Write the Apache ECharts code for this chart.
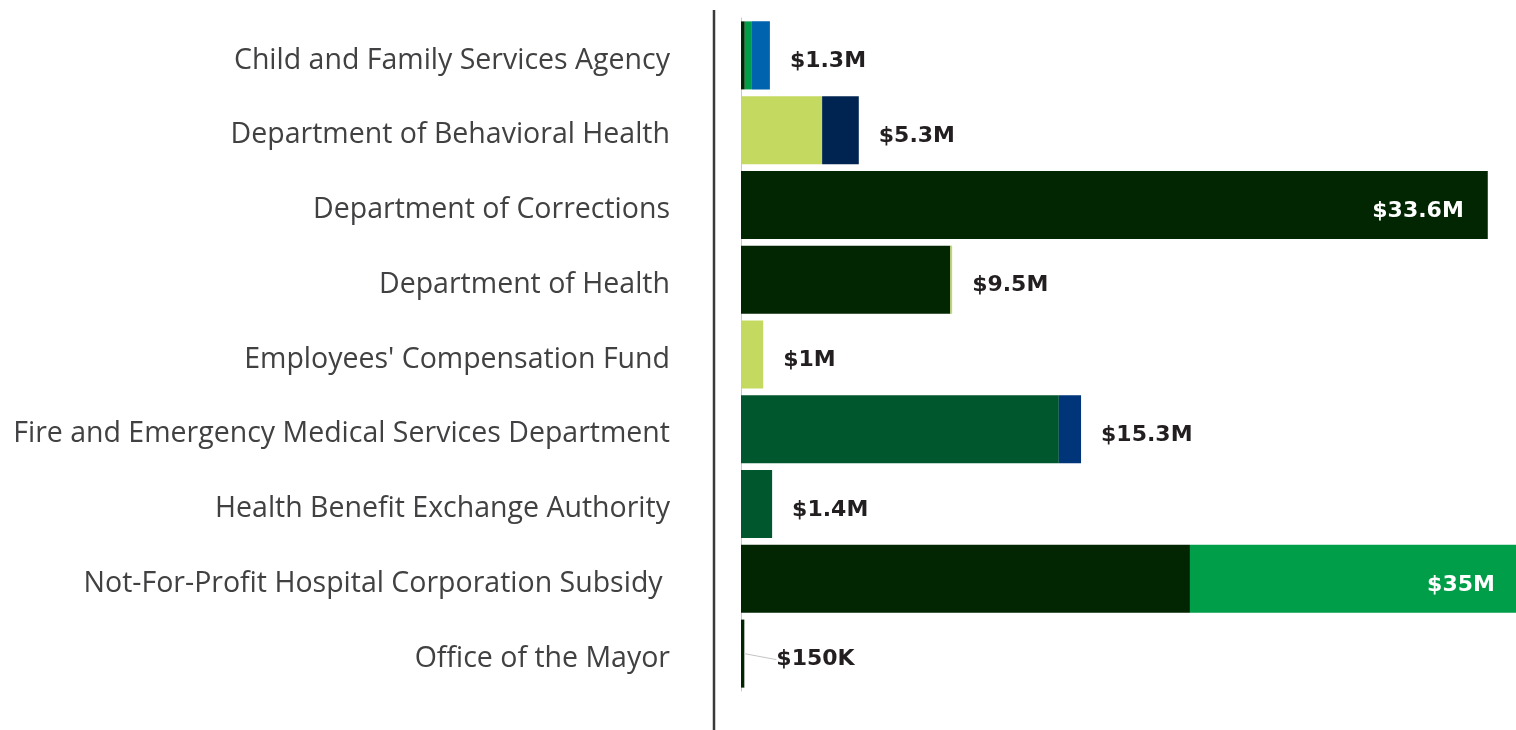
<!DOCTYPE html>
<html>
<head>
<meta charset="utf-8">
<script src="https://cdn.jsdelivr.net/npm/echarts@6/dist/echarts.min.js"></script>
<style>
  html, body { margin: 0; padding: 0; background: #fff; }
  #chart { width: 1516px; height: 730px; }
</style>
</head>
<body>
<div id="chart"></div>
<script>
const categories = [
  'Child and Family Services Agency',
  'Department of Behavioral Health',
  'Department of Corrections',
  'Department of Health',
  "Employees' Compensation Fund",
  'Fire and Emergency Medical Services Department',
  'Health Benefit Exchange Authority',
  'Not-For-Profit Hospital Corporation Subsidy ',
  'Office of the Mayor'
];

// segment values in $M, one array per fill colour
const darkGreen = [0.17, 0, 33.6, 9.42, 0, 0, 0, 20.2, 0.15];
const forest    = [0, 0, 0, 0, 0, 14.3, 1.4, 0, 0];
const green     = [0.32, 0, 0, 0, 0, 0, 0, 14.8, 0];
const lime      = [0, 3.65, 0, 0.08, 1.0, 0, 0, 0, 0];
const blue      = [0.81, 0, 0, 0, 0, 0, 0, 0, 0];
const navy      = [0, 1.65, 0, 0, 0, 0, 0, 0, 0];
const royal     = [0, 0, 0, 0, 0, 1.0, 0, 0, 0];

const totals      = [1.3, 5.3, 33.6, 9.5, 1.0, 15.3, 1.4, 35, 0.15];
const totalLabels = ['$1.3M', '$5.3M', '$33.6M', '$9.5M', '$1M', '$15.3M', '$1.4M', '$35M', '$150K'];

const segments = [
  { name: 'darkGreen', data: darkGreen, color: '#032602' },
  { name: 'forest', data: forest, color: '#00562d' },
  { name: 'green', data: green, color: '#009e48' },
  { name: 'lime', data: lime, color: '#c3d960' },
  { name: 'blue', data: blue, color: '#0063ae' },
  { name: 'navy', data: navy, color: '#002451' },
  { name: 'royal', data: royal, color: '#003579' }
];

const chart = echarts.init(document.getElementById('chart'));

const barSeries = segments.map(s => ({
  name: s.name,
  type: 'bar',
  stack: 'total',
  data: s.data,
  barCategoryGap: '9%',
  itemStyle: { color: s.color },
  silent: true
}));

// total labels: outside for short bars, inside (white) for the long ones,
// the tiny last bar gets a short leader line
const lastIdx = totals.length - 1;
const isInside = v => v > 30;
const totalData = totals.map((v, i) => {
  let label;
  if (isInside(v)) label = { position: 'left', distance: 24 };
  else if (i === lastIdx) label = { position: 'right', distance: 5, padding: [12, 0, 0, 14] };
  else label = { position: 'right', distance: 20 };
  return { value: [v, categories[i]], label, labelLine: { show: i === lastIdx } };
});

const valueText = {
  fontSize: 22,
  fontWeight: 'bold',
  fontFamily: '"DejaVu Sans", sans-serif'
};

chart.setOption({
  animation: false,
  backgroundColor: '#fff',
  grid: { left: 741, right: 0, top: 18, bottom: 39, containLabel: false },
  xAxis: {
    type: 'value',
    min: 0,
    max: 34.87,   // right end of the $35M bar runs just past the frame
    show: false
  },
  yAxis: {
    type: 'category',
    data: categories,
    inverse: true,
    axisLine: { show: true, lineStyle: { color: '#c8c8c8', width: 1 } },
    axisTick: { show: false },
    splitLine: { show: false },
    axisLabel: {
      margin: 71,
      verticalAlign: 'middle',
      formatter: v => '{t|' + v + '}',
      rich: {
        t: {
          fontSize: 28.5,
          color: '#414042',
          fontFamily: '"Open Sans", sans-serif',
          padding: [10, 0, 0, 0]
        }
      }
    }
  },
  graphic: [{
    type: 'line',
    shape: { x1: 714, y1: 10, x2: 714, y2: 730 },
    style: { stroke: '#3a3a3a', lineWidth: 2.5 }
  }],
  series: [
    ...barSeries,
    {
      name: 'total',
      type: 'scatter',
      data: totalData,
      symbolSize: 0,
      itemStyle: { opacity: 1 },
      silent: true,
      clip: false,
      z: 5,
      label: {
        show: true,
        formatter: p => {
          const i = p.dataIndex;
          const style = isInside(totals[i]) ? 'w' : (i === lastIdx ? 'm' : 'd');
          return '{' + style + '|' + totalLabels[i] + '}';
        },
        rich: {
          d: { ...valueText, color: '#231f20', padding: [12, 0, 0, 0] },
          m: { ...valueText, color: '#231f20' },
          w: { ...valueText, color: '#ffffff', padding: [12, 0, 0, 0] }
        }
      },
      labelLine: { show: false, lineStyle: { color: '#c4c4c4', width: 1 } },
      labelLayout: p => (p.dataIndex === lastIdx ? { dx: 13 } : {})
    }
  ]
});
</script>
</body>
</html>
